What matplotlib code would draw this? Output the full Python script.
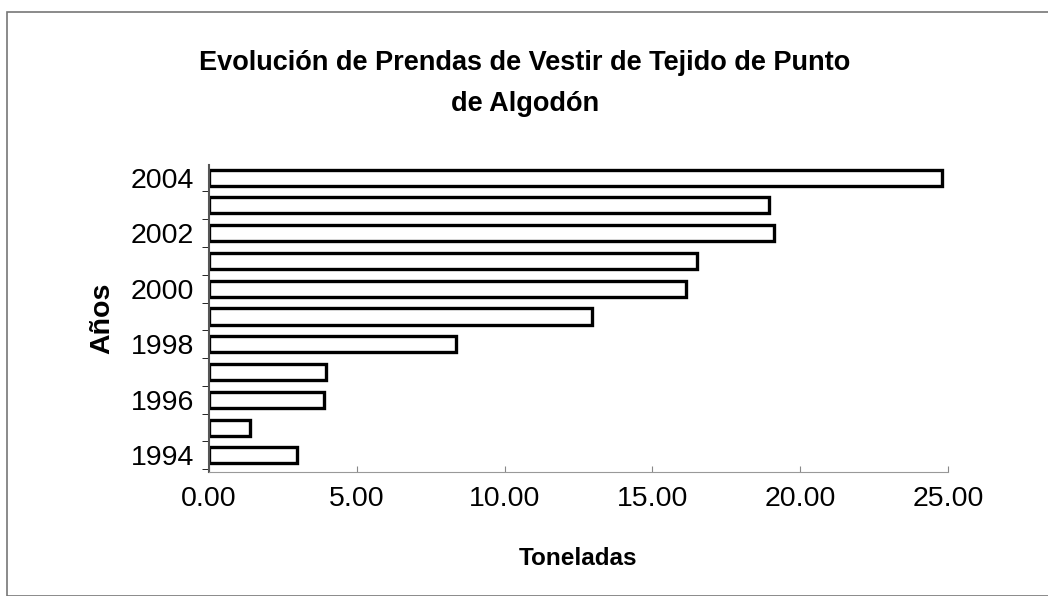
import matplotlib.pyplot as plt
from matplotlib.patches import Rectangle

plt.rcParams['font.family'] = ['Liberation Sans', 'DejaVu Sans']

# datos
anios = [1994, 1995, 1996, 1997, 1998, 1999, 2000, 2001, 2002, 2003, 2004]
toneladas = [2.97, 1.40, 3.90, 3.95, 8.35, 12.95, 16.15, 16.50, 19.10, 18.95, 24.80]
x_ticks = [0, 5, 10, 15, 20, 25]
x_labels = ['0.00', '5.00', '10.00', '15.00', '20.00', '25.00']
y_ticks = [1994, 1996, 1998, 2000, 2002, 2004]

fig = plt.figure(figsize=(10.48, 5.96), dpi=100)
ax = fig.add_axes([0.1995, 0.208, 0.705, 0.515])

ax.barh(anios, toneladas, height=0.58, color='white', edgecolor='black', linewidth=2.4)

ax.set_xlim(0, 25)
ax.set_ylim(1993.4, 2004.45)
ax.set_xticks(x_ticks)
ax.set_xticklabels(x_labels, fontsize=20.5)
ax.set_yticks(y_ticks)
ax.set_yticklabels([str(a) for a in y_ticks], fontsize=20.5)
ax.set_yticks([a + 0.5 for a in anios[:-1]] + [1993.5], minor=True)

ax.tick_params(axis='x', direction='in', length=4, color='#888888', pad=10)
ax.tick_params(axis='y', which='major', length=0, pad=11)
ax.tick_params(axis='y', which='minor', direction='out', length=5, color='black')

for s in ['top', 'right']:
    ax.spines[s].set_visible(False)
ax.spines['bottom'].set_color('#999999')
ax.spines['left'].set_color('#555555')
ax.spines['left'].set_linewidth(1.5)

ax.set_xlabel('Toneladas', fontsize=17.5, fontweight='bold', labelpad=25)
ax.set_ylabel('Años', fontsize=20.5, fontweight='bold', labelpad=11)

fig.text(0.501, 0.86, 'Evolución de Prendas de Vestir de Tejido de Punto\nde Algodón',
         ha='center', va='center', fontsize=19.5, fontweight='bold', linespacing=1.78)

# marco exterior
fig.patches.append(Rectangle((0.007, 0.0), 1.0, 0.98, transform=fig.transFigure,
                             fill=False, edgecolor='#777777', linewidth=1.2))

fig.savefig('out.png', dpi=100)
